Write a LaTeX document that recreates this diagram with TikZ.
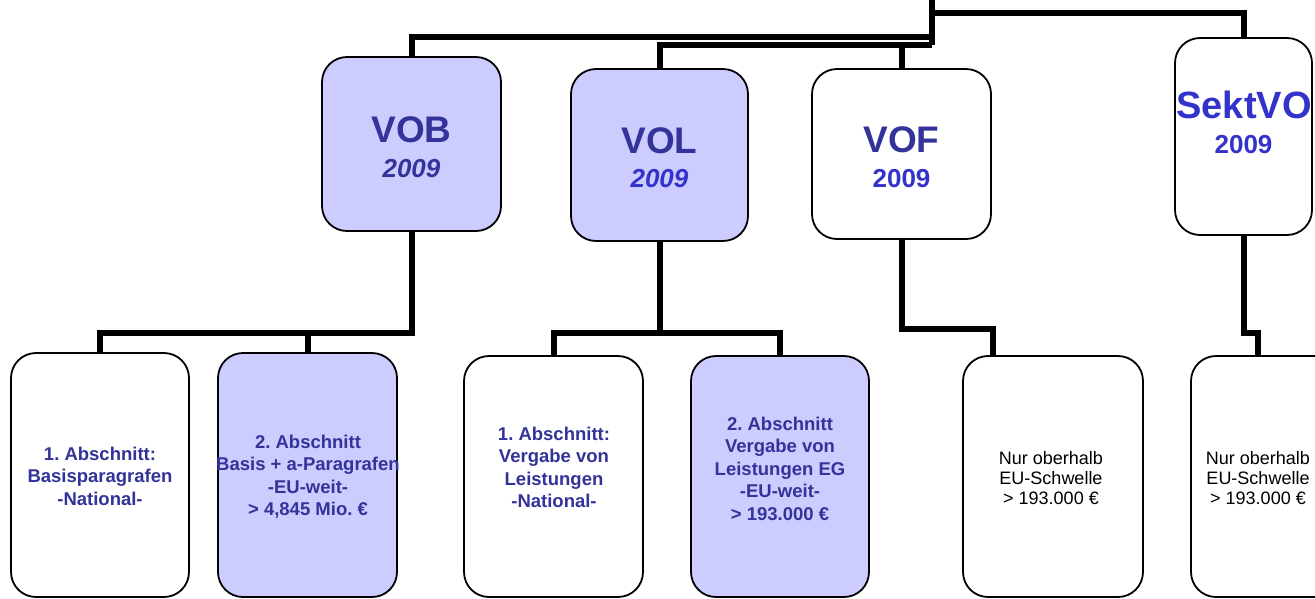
\documentclass[tikz,border=0pt]{standalone}
\usepackage{fontspec}
\setmainfont{Liberation Sans}
\frenchspacing
\definecolor{lav}{HTML}{CCCCFF}
\definecolor{dblue}{HTML}{333399}
\definecolor{bblue}{HTML}{3333CC}
\tikzset{
  conn/.style={line width=6pt, draw=black},
  box/.style={draw=black, line width=1.8pt, rounded corners=25pt, inner sep=0pt},
  lavbox/.style={box, fill=lav},
  whbox/.style={box, fill=white},
  title/.style={inner sep=0pt, anchor=base, font=\fontsize{37}{44}\selectfont\bfseries},
  year/.style={inner sep=0pt, anchor=base, font=\fontsize{26}{30}\selectfont\bfseries},
  btxt/.style={inner sep=0pt, anchor=north, align=center, text=dblue, font=\fontsize{18.5}{22.4}\selectfont\bfseries\frenchspacing},
  rtxt/.style={inner sep=0pt, anchor=north, align=center, text=black, font=\fontsize{18}{20.3}\selectfont}
}
\begin{document}
\begin{tikzpicture}[x=1pt,y=-1pt]
\useasboundingbox (0,0) rectangle (1315,598);
\clip (0,0) rectangle (1315,598);
% top boxes
\node[lavbox, minimum width=179pt, minimum height=174pt] (vob) at (411.5,144) {};
\node[lavbox, minimum width=177pt, minimum height=172pt] (vol) at (659.5,155) {};
\node[whbox, minimum width=179pt, minimum height=170pt] (vof) at (901.5,154) {};
\node[whbox, minimum width=137pt, minimum height=197pt] (sekt) at (1243.5,136.5) {};
% bottom boxes
\node[whbox, minimum width=178pt, minimum height=244pt] (b1) at (100,475) {};
\node[lavbox, minimum width=179pt, minimum height=244pt] (b2) at (307.5,475) {};
\node[whbox, minimum width=179pt, minimum height=241pt] (b3) at (553.5,476.5) {};
\node[lavbox, minimum width=178pt, minimum height=241pt] (b4) at (780,476.5) {};
\node[whbox, minimum width=180pt, minimum height=241pt] (b5) at (1053,476.5) {};
\node[whbox, minimum width=180pt, minimum height=241pt] (b6) at (1281,476.5) {};
% titles
\node[title, text=dblue] (tvob) at (411.5,142) {VOB};
\node[year, text=dblue, font=\fontsize{26}{30}\selectfont\bfseries\itshape] (yvob) at (411.5,177) {2009};
\node[title, text=dblue] (tvol) at (659.5,153) {VOL};
\node[year, text=bblue, font=\fontsize{26}{30}\selectfont\bfseries\itshape] (yvol) at (659.5,187) {2009};
\node[title, text=dblue] (tvof) at (901.5,152) {VOF};
\node[year, text=bblue] (yvof) at (901.5,187) {2009};
\node[title, text=bblue, font=\fontsize{38}{44}\selectfont\bfseries] (tsekt) at (1244,118) {SektVO};
\node[year, text=bblue] (ysekt) at (1243.5,153) {2009};
% bottom texts
\node[btxt] (x1) at (100,446.8) {1. Abschnitt:\\Basisparagrafen\\-National-};
\node[btxt] (x2) at (308,434.8) {2. Abschnitt\\Basis + a-Paragrafen\\-EU-weit-\\> 4,845 Mio. €};
\node[btxt] (x3) at (554,426.8) {1. Abschnitt:\\Vergabe von\\Leistungen\\-National-};
\node[btxt] (x4) at (780,416.8) {2. Abschnitt\\Vergabe von\\Leistungen EG\\-EU-weit-\\> 193.000 €};
\node[rtxt] (x5) at (1051,451) {Nur oberhalb\\EU-Schwelle\\> 193.000 €};
\node[rtxt] (x6) at (1258,451) {Nur oberhalb\\EU-Schwelle\\> 193.000 €};
% connector coordinates
\coordinate (t) at (932,-5);
\coordinate (j0) at (932,13);
\coordinate (j1) at (932,37);
\coordinate (j2) at (932,45);
\coordinate (yb) at (0,333);
\coordinate (yv) at (0,329);
\coordinate (c5) at ([xshift=31pt]b5.north west);
\coordinate (c6) at ([xshift=68pt]b6.north west);
% top connectors
\draw[conn] (t) -- (j2);
\draw[conn] (j0) -| (sekt.north);
\draw[conn] (j1) -| (vob.north);
\draw[conn] (j2) -| (vol.north);
\draw[conn] (vof.north) -- (vof.north |- j2);
% bottom connectors
\draw[conn] (vob.south) -- (vob.south |- yb) -| (b1.north);
\draw[conn] (b2.north) -- (b2.north |- yb);
\draw[conn] (b3.north) -- (b3.north |- yb) -- (b4.north |- yb) -- (b4.north);
\draw[conn] (vol.south) -- (vol.south |- yb);
\draw[conn] (vof.south) -- (vof.south |- yv) -| (c5);
\draw[conn] (sekt.south) -- (sekt.south |- yb) -| (c6);
\end{tikzpicture}
\end{document}
